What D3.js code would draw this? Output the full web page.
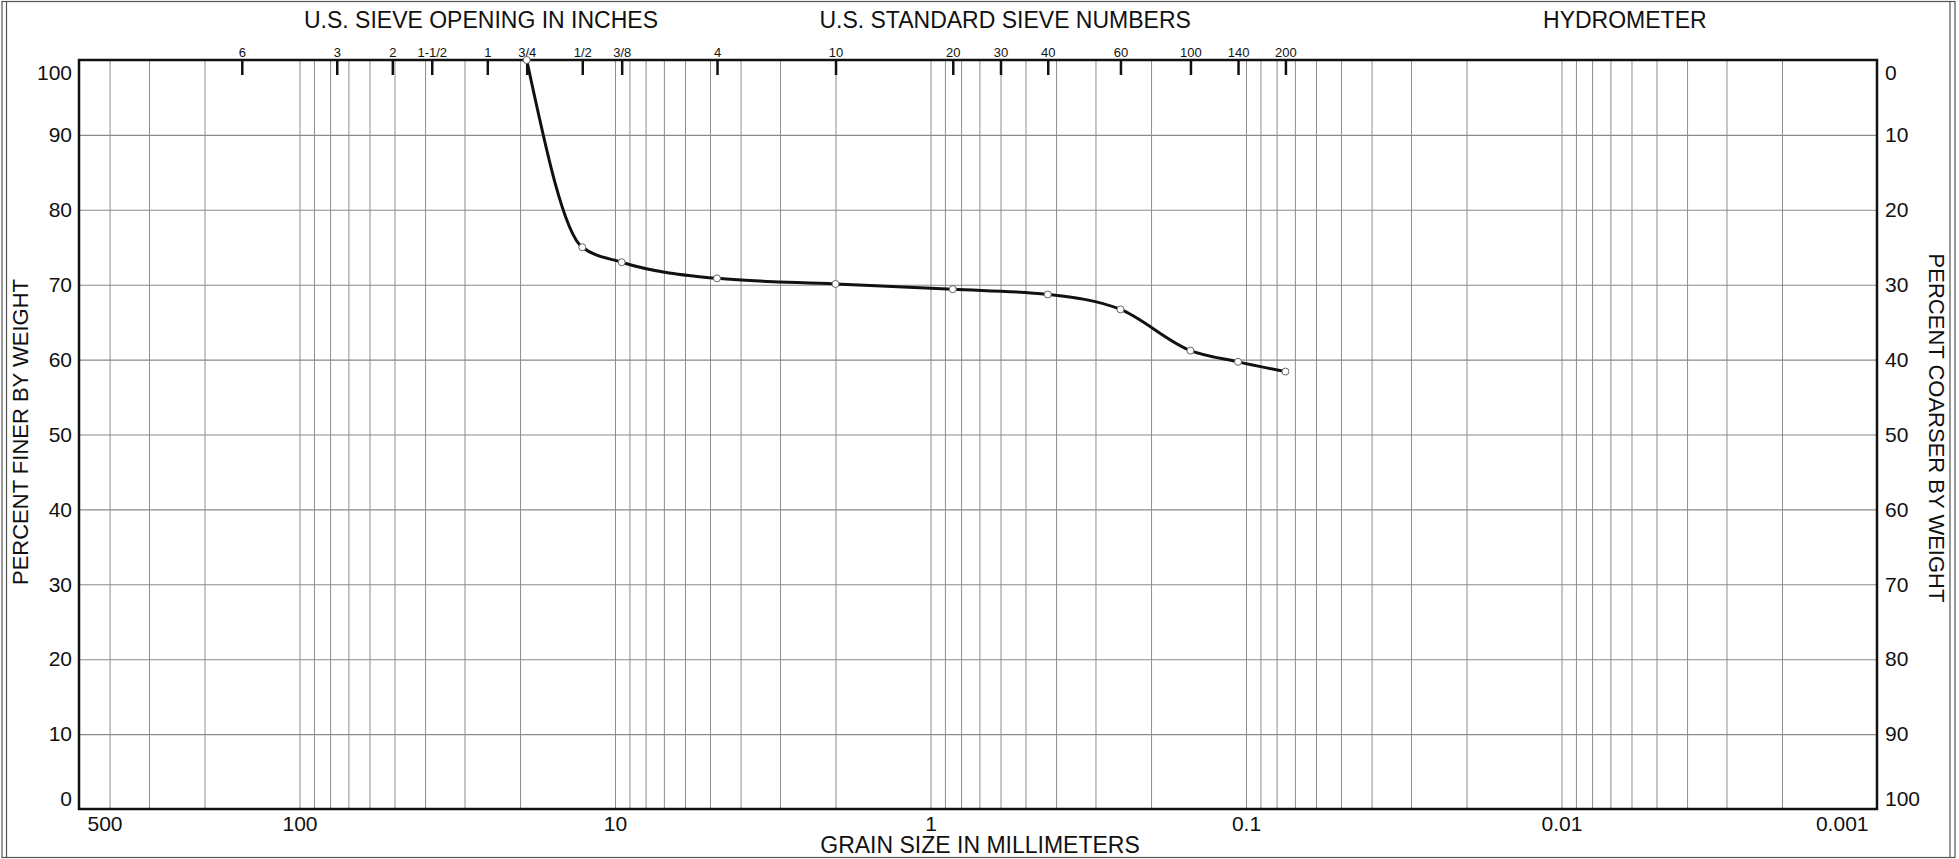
<!DOCTYPE html>
<html>
<head>
<meta charset="utf-8">
<script src="https://cdn.jsdelivr.net/npm/d3@7"></script>
<style>
  html, body { margin: 0; padding: 0; background: #fff; }
  svg { display: block; }
  text { font-family: "Liberation Sans", Arial, sans-serif; fill: #111; }
</style>
</head>
<body>
<script>
// ---- data ----
const sieveLabels = ["6","3","2","1-1/2","1","3/4","1/2","3/8","4","10","20","30","40","60","100","140","200"];
const sieveSizes  = [152.4, 76.2, 50.8, 38.1, 25.4, 19.05, 12.7, 9.525, 4.75, 2.0, 0.85, 0.6, 0.425, 0.25, 0.15, 0.106, 0.075];
const grainSize    = [19.05, 12.7, 9.525, 4.75, 2.0, 0.85, 0.425, 0.25, 0.15, 0.106, 0.075];
const percentFiner = [100, 75.0, 73.0, 70.85, 70.1, 69.4, 68.7, 66.7, 61.2, 59.7, 58.4];
const xTickValues = [500, 100, 10, 1, 0.1, 0.01, 0.001];
const xTickLabels = ["500", "100", "10", "1", "0.1", "0.01", "0.001"];
const yTickValues = [0, 10, 20, 30, 40, 50, 60, 70, 80, 90, 100];
const headers = ["U.S. SIEVE OPENING IN INCHES", "U.S. STANDARD SIEVE NUMBERS", "HYDROMETER"];
const headerCenters = [26.6, 0.58, 0.0063]; // grain size (mm) under each header centre

const W = 1959, H = 859;
const L = 79, R = 1877, T = 60, B = 809;

const svg = d3.select("body").append("svg").attr("width", W).attr("height", H);

const x = d3.scaleLog().domain([500, 0.001]).range([L, R]);
const y = d3.scaleLinear().domain([0, 100]).range([B, T]);

// outer frame (scanned sheet border)
const frame = svg.append("g").attr("stroke", "#555").attr("stroke-width", 1.2).attr("fill", "none");
frame.append("rect").attr("x", 2).attr("y", 1.5).attr("width", 1953).attr("height", 856);
frame.append("line").attr("x1", 6.5).attr("x2", 6.5).attr("y1", 1.5).attr("y2", 857.5);
frame.append("line").attr("x1", 1950).attr("x2", 1950).attr("y1", 1.5).attr("y2", 857.5);

// vertical log grid
const gridVals = [];
for (let e = -3; e <= 2; e++) {
  for (let m = 1; m <= 9; m++) {
    const v = +(m * Math.pow(10, e)).toPrecision(6);
    if (v > 0.001 && v < 500) gridVals.push(v);
  }
}
const gx = svg.append("g").attr("transform", `translate(0,${B})`)
  .call(d3.axisBottom(x).tickValues(gridVals).tickSize(-(B - T)).tickFormat(""));
gx.select(".domain").remove();
gx.selectAll(".tick line").attr("stroke", "#8e8e8e").attr("stroke-width", 1);

// horizontal grid
const gy = svg.append("g").attr("transform", `translate(${L},0)`)
  .call(d3.axisLeft(y).tickValues(yTickValues.filter(v => v > 0 && v < 100)).tickSize(-(R - L)).tickFormat(""));
gy.select(".domain").remove();
gy.selectAll(".tick line").attr("stroke", "#8a8a8a").attr("stroke-width", 1.1);

// plot border
svg.append("rect").attr("x", L).attr("y", T).attr("width", R - L).attr("height", B - T)
  .attr("fill", "none").attr("stroke", "#111").attr("stroke-width", 2.5);

// bottom axis labels
const ax = svg.append("g").attr("transform", `translate(0,${B})`)
  .call(d3.axisBottom(x).tickValues(xTickValues).tickSize(0).tickPadding(7)
    .tickFormat((d, i) => xTickLabels[i]));
ax.select(".domain").remove();
ax.selectAll("text").style("font-size", "21px").attr("fill", "#111");
ax.selectAll(".tick").filter(d => d === 500).select("text").attr("text-anchor", "start").attr("x", 8);
ax.selectAll(".tick").filter(d => d === 0.001).select("text").attr("text-anchor", "end").attr("x", -9);

// left axis
const ayl = svg.append("g").attr("transform", `translate(${L},0)`)
  .call(d3.axisLeft(y).tickValues(yTickValues).tickSize(0).tickPadding(7));
ayl.select(".domain").remove();
ayl.selectAll("text").style("font-size", "21px").attr("fill", "#111");
ayl.selectAll(".tick").filter(d => d === 100).select("text").attr("y", 13);
ayl.selectAll(".tick").filter(d => d === 0).select("text").attr("y", -10);

// right axis
const ayr = svg.append("g").attr("transform", `translate(${R},0)`)
  .call(d3.axisRight(y).tickValues(yTickValues).tickSize(0).tickPadding(8).tickFormat(d => 100 - d));
ayr.select(".domain").remove();
ayr.selectAll("text").style("font-size", "21px").attr("fill", "#111");
ayr.selectAll(".tick").filter(d => d === 100).select("text").attr("y", 13);
ayr.selectAll(".tick").filter(d => d === 0).select("text").attr("y", -10);

// top sieve ticks
const at = svg.append("g").attr("transform", `translate(0,${T})`)
  .call(d3.axisTop(x).tickValues(sieveSizes).tickSize(-15).tickPadding(3)
    .tickFormat((d, i) => sieveLabels[i]));
at.select(".domain").remove();
at.selectAll(".tick line").attr("stroke", "#111").attr("stroke-width", 2.5);
at.selectAll("text").style("font-size", "13px").attr("fill", "#111");

// headers
svg.append("g").selectAll("text").data(headers).join("text")
  .attr("x", (d, i) => x(headerCenters[i]))
  .attr("y", 28)
  .attr("text-anchor", "middle")
  .style("font-size", "23px")
  .text(d => d);

// axis titles
svg.append("text").attr("x", (L + R) / 2 + 2).attr("y", 853).attr("text-anchor", "middle")
  .style("font-size", "23px").text("GRAIN SIZE IN MILLIMETERS");
svg.append("text").attr("transform", "translate(28,432) rotate(-90)").attr("text-anchor", "middle")
  .style("font-size", "22px").text("PERCENT FINER BY WEIGHT");
svg.append("text").attr("transform", "translate(1929,428) rotate(90)").attr("text-anchor", "middle")
  .style("font-size", "22px").text("PERCENT COARSER BY WEIGHT");

// gradation curve
const pts = grainSize.map((s, i) => ({ s, p: percentFiner[i] }));
const line = d3.line().x(d => x(d.s)).y(d => y(d.p)).curve(d3.curveMonotoneX);
svg.append("path").datum(pts).attr("d", line)
  .attr("fill", "none").attr("stroke", "#111").attr("stroke-width", 3);
svg.append("g").selectAll("circle").data(pts).join("circle")
  .attr("cx", d => x(d.s)).attr("cy", d => y(d.p)).attr("r", 3.5)
  .attr("fill", "#fff").attr("stroke", "#666").attr("stroke-width", 1);
</script>
</body>
</html>
